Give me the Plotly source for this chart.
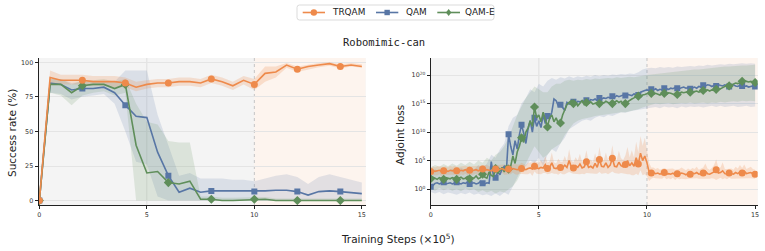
import plotly.graph_objects as go

# ---------------- data: left panel (success rate, %) ----------------
steps_sr = [i * 0.5 for i in range(31)]  # training steps (x1e5)

trqam_sr = [0, 89, 87, 87, 87, 86, 86, 86, 85, 82, 84, 85, 85, 86, 86, 85,
            88, 86, 83, 87, 84, 92, 93, 98, 95, 97, 98, 99, 97, 98, 97]
trqam_sr_lo = [0, 85, 84, 84, 84, 83, 83, 82, 82, 79, 81, 82, 82, 83, 83, 82,
               85, 83, 80, 84, 80, 86, 89, 96, 93, 95, 96.5, 97.5, 95.5, 97, 96]
trqam_sr_hi = [0, 94, 91, 91, 91, 90, 90, 90, 89, 86, 87, 88, 88, 89, 89, 88,
               91, 89, 86, 90, 88, 97, 97, 99.5, 97, 98.5, 99.5, 100, 98.5, 99.5, 98.5]

qam_sr = [0, 85, 84, 80, 81, 81, 82, 78, 69, 61, 60, 35, 18, 6, 9, 6,
          7, 7, 7, 6.5, 6.5, 7, 7.5, 7.5, 6.5, 4, 6.5, 7, 6.5, 6, 5]
qam_sr_lo = [0, 78, 77, 73, 75, 76, 77, 70, 50, 28, 26, 3, 0, 0, 0, 0,
             0, 0, 0, 0, 0, 0, 0, 0, 0, 0, 0, 0, 0, 0, 0]
qam_sr_hi = [0, 88, 88, 85, 86, 86, 86, 86, 94, 94, 94, 62, 40, 18, 20, 16,
             16, 16, 15, 15, 14, 16, 18, 19, 17, 12, 17, 19, 17, 15, 13]

qame_sr = [0, 84, 84, 78, 83, 84, 84, 81, 84, 40, 20, 21, 13, 12, 14, 1,
           1, 0, 0, 0.5, 1, 1, 0, 0, 0, 0, 0, 0, 0, 0, 0]
qame_sr_lo = [0, 78, 76, 69, 76, 78, 79, 76, 78, 0, 0, 0, 0, 0, 0, 0,
              0, 0, 0, 0, 0, 0, 0, 0, 0, 0, 0, 0, 0, 0, 0]
qame_sr_hi = [0, 88, 88, 84, 87, 87, 88, 86, 88, 70, 57, 55, 43, 42, 42, 3,
              3, 2, 2, 2, 2.5, 2.5, 1.5, 1.5, 1.5, 1.5, 1.5, 1.5, 1.5, 1.5, 1.5]

# ---------------- data: right panel (adjoint loss, log10 values) ----------------
steps_loss = [i / 10 for i in range(151)]

trqam_loss_log = [
    3.1, 3.2, 3.1, 3.2, 3.3, 3.1, 3.2, 3.2, 3.1, 3.3,
    3.2, 3.3, 3.2, 3.1, 3.3, 3.2, 3.4, 3.2, 3.3, 3.2,
    3.3, 3.4, 3.2, 3.3, 3.5, 3.3, 3.4, 3.3, 3.2, 3.4,
    3.5, 3.3, 3.4, 3.6, 3.4, 3.3, 3.5, 3.4, 3.6, 3.5,
    3.4, 3.5, 3.6, 3.5, 3.4, 3.6, 3.7, 3.5, 4.0, 3.7,
    3.6, 3.8, 3.7, 4.3, 3.6, 3.8, 4.6, 3.7, 3.6, 3.9,
    3.8, 3.7, 4.2, 3.8, 5.0, 3.9, 3.7, 4.1, 3.8, 4.4,
    3.7, 3.9, 4.8, 3.8, 4.0, 3.7, 4.5, 3.8, 5.2, 4.0,
    3.9, 4.6, 3.8, 4.2, 5.4, 4.0, 3.9, 4.7, 4.1, 3.9,
    4.3, 5.0, 4.1, 4.6, 4.0, 5.5, 4.4, 6.3, 5.0, 5.8,
    4.6, 3.0, 2.8, 2.9, 2.7, 2.8, 2.6, 2.7, 2.9, 2.6,
    2.7, 2.6, 2.8, 2.5, 2.7, 2.6, 2.8, 2.7, 2.5, 2.7,
    2.6, 2.8, 2.7, 2.9, 2.6, 2.7, 2.8, 3.1, 2.7, 2.6,
    2.8, 3.0, 3.4, 2.8, 2.9, 3.2, 2.7, 2.6, 2.8, 2.7,
    2.6, 2.9, 2.7, 3.0, 2.8, 3.1, 2.7, 2.8, 2.9, 2.7,
    2.6]
trqam_loss_spread = [
    0.7, 0.8, 0.7, 0.8, 0.7, 0.8, 0.7, 0.8, 0.7, 0.8,
    0.7, 0.8, 0.7, 0.8, 0.7, 0.8, 0.7, 0.8, 0.7, 0.8,
    0.8, 0.7, 0.9, 0.8, 0.7, 0.9, 0.8, 0.7, 0.9, 0.8,
    0.8, 0.9, 0.8, 0.7, 0.9, 0.8, 0.9, 0.8, 0.7, 0.9,
    0.9, 0.8, 1.0, 0.9, 0.8, 1.0, 0.9, 1.2, 0.9, 1.0,
    1.0, 1.2, 0.9, 1.5, 1.0, 1.1, 1.8, 1.0, 0.9, 1.4,
    1.0, 1.1, 1.6, 1.0, 2.0, 1.1, 1.0, 1.5, 1.2, 1.8,
    1.0, 1.3, 2.0, 1.1, 1.2, 1.0, 1.8, 1.1, 2.2, 1.3,
    1.1, 1.8, 1.2, 1.4, 2.3, 1.2, 1.1, 2.0, 1.3, 1.2,
    1.6, 2.4, 1.5, 2.2, 1.6, 2.8, 2.0, 3.0, 2.6, 3.2,
    2.4, 1.6, 1.0, 0.9, 0.8, 0.9, 0.8, 0.9, 0.8, 0.9,
    0.8, 0.9, 0.8, 0.9, 0.8, 0.9, 1.0, 0.9, 0.8, 0.9,
    0.8, 0.9, 0.8, 1.0, 0.8, 0.9, 1.0, 1.4, 0.9, 0.8,
    0.9, 1.2, 1.8, 1.0, 0.9, 1.5, 0.8, 0.9, 0.8, 0.9,
    0.8, 1.0, 0.9, 1.2, 0.9, 1.2, 0.8, 0.9, 1.0, 0.8,
    0.8]

qam_loss_log = [
    0.4, 0.6, 1.0, 1.1, 0.9, 1.0, 1.2, 0.9, 1.0, 1.1,
    0.9, 1.0, 1.2, 1.0, 0.9, 1.1, 1.0, 1.2, 0.9, 1.0,
    1.1, 0.9, 1.0, 1.3, 1.0, 0.9, 1.1, 1.0, 4.8, 2.4,
    2.0, 3.0, 2.5, 3.5, 4.0, 3.2, 9.6, 7.5, 6.0, 8.5,
    7.0, 9.5, 11.3, 9.8, 8.0, 10.5, 12.0, 10.0, 12.5, 11.0,
    12.0, 10.8, 13.0, 11.5, 12.8, 12.3, 13.5, 15.8, 15.5, 14.6,
    14.8, 14.3, 13.8, 15.2, 14.9, 15.1, 15.3, 15.0, 15.4, 15.3,
    15.5, 15.4, 15.6, 15.3, 15.7, 15.6, 15.8, 15.5, 16.0, 15.8,
    16.0, 15.9, 16.1, 16.0, 16.3, 16.1, 16.4, 16.2, 16.3, 16.5,
    16.4, 16.6, 16.5, 16.4, 16.7, 16.6, 16.5, 17.0, 17.2, 17.3,
    17.4, 17.3, 17.5, 17.4, 17.6, 17.3, 17.5, 17.4, 17.7, 17.6,
    17.5, 17.7, 17.6, 17.8, 17.7, 17.6, 17.8, 17.9, 17.7, 17.8,
    17.6, 17.8, 17.9, 17.7, 18.0, 17.9, 18.2, 18.1, 18.3, 18.2,
    18.0, 18.2, 18.1, 18.3, 18.2, 18.1, 18.3, 18.2, 18.0, 18.2,
    18.3, 18.1, 18.0, 18.2, 18.1, 18.0, 18.1, 17.9, 18.0, 18.1,
    18.0]

qame_loss_log = [
    1.8, 2.1, 1.9, 1.7, 2.0, 1.8, 1.7, 2.0, 1.9, 1.8,
    2.0, 1.8, 1.7, 1.9, 2.1, 1.8, 1.9, 2.2, 1.8, 2.0,
    1.9, 2.3, 1.8, 2.0, 2.6, 2.1, 1.9, 3.0, 2.4, 2.2,
    3.6, 2.8, 3.2, 3.8, 3.0, 4.2, 3.5, 4.0, 5.8, 4.5,
    6.5, 7.5, 9.0, 8.2, 10.0, 10.7, 12.0, 11.0, 14.4, 12.5,
    13.0, 11.8, 13.5, 12.2, 10.9, 12.5, 13.0, 11.8, 12.5, 11.5,
    11.6, 13.0, 14.0, 14.8, 15.2, 15.5, 15.0, 15.3, 14.6, 15.1,
    15.5, 14.8, 15.2, 15.0, 15.3, 14.9, 15.1, 15.2, 15.0, 15.3,
    15.1, 15.4, 15.2, 15.0, 15.0, 15.3, 15.5, 15.2, 15.4, 15.0,
    15.0, 15.3, 15.6, 15.8, 16.0, 16.1, 16.3, 16.2, 16.5, 16.6,
    16.7, 16.9, 16.8, 16.6, 16.8, 16.7, 16.5, 16.7, 16.8, 16.6,
    16.9, 16.8, 16.7, 16.5, 16.6, 16.8, 17.0, 16.9, 17.0, 17.1,
    17.0, 16.9, 17.1, 17.2, 17.0, 17.1, 17.3, 17.2, 17.4, 17.2,
    17.4, 17.3, 17.5, 17.4, 17.6, 17.8, 18.0, 18.2, 18.1, 18.3,
    18.4, 18.6, 18.5, 18.7, 18.9, 19.0, 18.9, 18.8, 18.9, 18.8,
    18.7]

# bands for QAM / QAM-E on a coarser grid (log10)
steps_band = [i / 5 for i in range(76)]
qam_band_lo = [
    -0.5, -0.8, -0.5, -0.9, -0.6, -0.8, -1.0, -0.7, -0.9, -0.6,
    -1.0, -0.8, -1.1, -0.9, -1.2, -0.8, -1.2, -0.6, -1.0, 0.5,
    2.0, 3.5, 4.0, 5.0, 4.5, 5.5, 4.0, 6.0, 7.0, 6.5,
    8.0, 9.0, 10.5, 11.0, 11.5, 12.0, 12.2, 12.0, 12.5, 12.8,
    12.6, 13.0, 12.8, 13.2, 13.5, 13.4, 13.6, 13.8, 14.0, 14.0,
    14.2, 14.3, 14.4, 14.2, 14.5, 14.3, 14.4, 14.2, 14.5, 14.3,
    14.5, 14.4, 14.5, 14.3, 14.5, 14.6, 14.4, 14.6, 14.4, 14.5,
    14.6, 14.4, 14.5, 14.6, 14.4, 14.5]
qam_band_hi = [
    3.0, 3.5, 3.0, 3.8, 3.2, 3.6, 3.0, 3.8, 3.3, 4.0,
    3.4, 4.2, 3.6, 4.5, 6.0, 5.5, 7.0, 8.0, 11.0, 12.5,
    13.0, 15.0, 16.0, 17.5, 17.0, 18.5, 18.0, 19.0, 19.5, 19.2,
    19.6, 19.4, 19.8, 19.5, 19.8, 19.6, 19.9, 19.7, 20.0, 19.8,
    20.0, 19.9, 20.1, 20.0, 20.2, 20.1, 20.3, 20.2, 20.5, 21.0,
    21.2, 21.3, 21.2, 21.4, 21.3, 21.4, 21.3, 21.5, 21.4, 21.5,
    21.6, 21.5, 21.7, 21.6, 21.8, 21.7, 21.8, 21.9, 21.8, 22.0,
    21.9, 22.0, 22.1, 22.0, 22.1, 22.0]
qame_band_lo = [
    0.0, -0.3, 0.2, -0.2, 0.1, -0.3, 0.0, -0.4, 0.1, -0.2,
    0.0, -0.5, -0.2, -0.6, -0.3, -0.8, -0.4, -0.6, 0.0, 0.5,
    1.5, 3.0, 4.5, 6.0, 7.5, 6.5, 5.5, 6.0, 7.0, 7.5,
    8.0, 9.5, 10.5, 11.5, 12.0, 12.3, 12.5, 12.6, 12.8, 13.0,
    13.0, 13.2, 13.3, 13.4, 13.5, 13.5, 13.7, 13.8, 14.0, 14.3,
    14.5, 14.8, 15.0, 14.9, 15.0, 15.1, 14.9, 15.0, 15.1, 15.0,
    15.2, 15.0, 15.1, 15.2, 15.0, 15.2, 15.1, 15.3, 15.2, 15.3,
    15.4, 15.3, 15.5, 15.4, 15.5, 15.4]
qame_band_hi = [
    3.8, 4.2, 3.9, 4.4, 4.0, 4.5, 4.1, 4.6, 4.2, 4.8,
    4.3, 5.0, 4.6, 5.5, 5.0, 6.0, 6.5, 7.5, 9.0, 11.0,
    13.0, 14.5, 16.0, 17.0, 18.0, 17.5, 17.0, 17.0, 18.0, 18.5,
    18.5, 19.0, 19.2, 19.0, 19.2, 19.1, 19.3, 19.2, 19.4, 19.3,
    19.4, 19.5, 19.4, 19.6, 19.5, 19.6, 19.7, 19.6, 19.8, 19.9,
    20.0, 20.1, 20.2, 20.3, 20.4, 20.5, 20.5, 20.6, 20.7, 20.8,
    20.9, 21.0, 21.0, 21.1, 21.2, 21.3, 21.3, 21.4, 21.5, 21.5,
    21.6, 21.6, 21.7, 21.7, 21.8, 21.8]

series_names = ["TRQAM", "QAM", "QAM-E"]
loss_ticks = [0, 5, 10, 15, 20]

# ---------------- styles ----------------
W, H = 765, 251
C_OR = "#EE8A4B"
C_BL = "#5876A5"
C_GR = "#5F8E5A"
F_OR = "rgba(238,138,75,0.22)"
F_BL = "rgba(88,118,165,0.16)"
F_GR = "rgba(95,142,90,0.16)"
SYM = {"TRQAM": "circle", "QAM": "square", "QAM-E": "diamond"}
MS = {"TRQAM": 7, "QAM": 6, "QAM-E": 7}
COL = {"TRQAM": C_OR, "QAM": C_BL, "QAM-E": C_GR}

fig = go.Figure()


def band(x, lo, hi, fill, xa, ya):
    fig.add_trace(go.Scatter(x=list(x) + list(x)[::-1], y=list(hi) + list(lo)[::-1],
                             fill="toself", fillcolor=fill, line=dict(width=0),
                             mode="lines", showlegend=False, hoverinfo="skip",
                             xaxis=xa, yaxis=ya))


def line(x, y, name, xa, ya, every):
    fig.add_trace(go.Scatter(x=x, y=y, mode="lines", line=dict(color=COL[name], width=1.6),
                             showlegend=False, xaxis=xa, yaxis=ya))
    fig.add_trace(go.Scatter(x=x[::every], y=y[::every], mode="markers",
                             marker=dict(color=COL[name], symbol=SYM[name], size=MS[name]),
                             showlegend=False, xaxis=xa, yaxis=ya))


def p10(arr):
    return [10.0 ** v for v in arr]


# left panel
band(steps_sr, qam_sr_lo, qam_sr_hi, F_BL, "x", "y")
band(steps_sr, qame_sr_lo, qame_sr_hi, F_GR, "x", "y")
band(steps_sr, trqam_sr_lo, trqam_sr_hi, F_OR, "x", "y")
line(steps_sr, qam_sr, "QAM", "x", "y", 4)
line(steps_sr, qame_sr, "QAM-E", "x", "y", 4)
line(steps_sr, trqam_sr, "TRQAM", "x", "y", 4)

# right panel
band(steps_band, p10(qam_band_lo), p10(qam_band_hi), F_BL, "x2", "y2")
band(steps_band, p10(qame_band_lo), p10(qame_band_hi), F_GR, "x2", "y2")
band(steps_loss, p10([m - s for m, s in zip(trqam_loss_log, trqam_loss_spread)]),
     p10([m + s for m, s in zip(trqam_loss_log, trqam_loss_spread)]), F_OR, "x2", "y2")
line(steps_loss, p10(qam_loss_log), "QAM", "x2", "y2", 6)
line(steps_loss, p10(qame_loss_log), "QAM-E", "x2", "y2", 6)
line(steps_loss, p10(trqam_loss_log), "TRQAM", "x2", "y2", 6)

TICKF = dict(family="DejaVu Sans", size=6.4, color="#333333")
common_ax = dict(showline=True, linecolor="#222222", linewidth=1, ticks="outside",
                 ticklen=3, tickwidth=0.8, tickcolor="#222222", tickfont=TICKF,
                 zeroline=False, automargin=False)
YD = [46 / H, 193 / H]

fig.update_layout(
    width=W, height=H, margin=dict(l=0, r=0, t=0, b=0),
    paper_bgcolor="white", plot_bgcolor="#F4F4F4", showlegend=False,
    xaxis=dict(domain=[38.5 / W, 365.7 / W], range=[-0.04, 15.18], tickvals=[0, 5, 10, 15],
               showgrid=False, anchor="y", **common_ax),
    yaxis=dict(domain=YD, range=[-3.2, 103.1], tickvals=[0, 25, 50, 75, 100],
               showgrid=True, gridcolor="#E4E4E4", gridwidth=1, anchor="x", **common_ax),
    xaxis2=dict(domain=[430.7 / W, 757.7 / W], range=[0, 15.12], tickvals=[0, 5, 10, 15],
                showgrid=False, anchor="y2", **common_ax),
    yaxis2=dict(domain=YD, type="log", range=[-2.8, 23.0],
                tickvals=[10.0 ** t for t in loss_ticks],
                ticktext=["10<sup>%d</sup>" % t for t in loss_ticks],
                showgrid=True, gridcolor="#E4E4E4", gridwidth=1, anchor="x2", **common_ax),
)


def px(xp):
    return xp / W


def py(yp):
    return 1 - yp / H


shapes = []
for xa, ya, xmax in (("x", "y", 15.18), ("x2", "y2", 15.12)):
    shapes.append(dict(type="rect", xref=xa, yref=ya + " domain", x0=10, x1=xmax, y0=0, y1=1,
                       fillcolor="#FDF4EE", line=dict(width=0), layer="below"))
    shapes.append(dict(type="line", xref=xa, yref=ya + " domain", x0=5, x1=5, y0=0, y1=1,
                       line=dict(color="#DEDEDE", width=1), layer="below"))
    shapes.append(dict(type="line", xref=xa, yref=ya + " domain", x0=10, x1=10, y0=0, y1=1,
                       line=dict(color="#C4C4C4", width=1, dash="dot"), layer="below"))

# ---- manual legend (paper coords from pixel layout) ----
bx0, bx1, by0, by1, r = 297, 494, 5, 20, 2.5
path = ("M {a},{b} L {c},{b} Q {d},{b} {d},{e} L {d},{f} Q {d},{g} {c},{g} "
        "L {a},{g} Q {h},{g} {h},{f} L {h},{e} Q {h},{b} {a},{b} Z").format(
    a=px(bx0 + r), b=py(by0), c=px(bx1 - r), d=px(bx1), e=py(by0 + r),
    f=py(by1 - r), g=py(by1), h=px(bx0))
shapes.append(dict(type="path", xref="paper", yref="paper", path=path,
                   fillcolor="white", line=dict(color="#D2D2D2", width=0.8), layer="above"))
leg_y = 12.5
leg_items = [("TRQAM", 302.7, 325, 329.5), ("QAM", 376, 398.3, 404), ("QAM-E", 437.3, 460, 463.3)]
for name, lx0, lx1, tx in leg_items:
    c = COL[name]
    shapes.append(dict(type="line", xref="paper", yref="paper", x0=px(lx0), x1=px(lx1),
                       y0=py(leg_y), y1=py(leg_y), line=dict(color=c, width=1.6), layer="above"))
    cx = (lx0 + lx1) / 2
    if name == "TRQAM":
        rr = 3.2
        shapes.append(dict(type="circle", xref="paper", yref="paper", x0=px(cx - rr), x1=px(cx + rr),
                           y0=py(leg_y + rr), y1=py(leg_y - rr), fillcolor=c,
                           line=dict(color=c, width=0), layer="above"))
    elif name == "QAM":
        rr = 2.7
        shapes.append(dict(type="rect", xref="paper", yref="paper", x0=px(cx - rr), x1=px(cx + rr),
                           y0=py(leg_y + rr), y1=py(leg_y - rr), fillcolor=c,
                           line=dict(color=c, width=0), layer="above"))
    else:
        rr = 3.4
        dpath = "M {},{} L {},{} L {},{} L {},{} Z".format(
            px(cx), py(leg_y - rr), px(cx + rr * 0.8), py(leg_y), px(cx), py(leg_y + rr),
            px(cx - rr * 0.8), py(leg_y))
        shapes.append(dict(type="path", xref="paper", yref="paper", path=dpath, fillcolor=c,
                           line=dict(color=c, width=0), layer="above"))
    fig.add_annotation(text=name, x=px(tx), y=py(leg_y), xref="paper", yref="paper",
                       xanchor="left", yanchor="middle", showarrow=False,
                       font=dict(family="DejaVu Sans", size=8.9, color="#222222"))

fig.update_layout(shapes=shapes)

TITLEF = dict(family="DejaVu Sans", size=10.5, color="#222222")
fig.add_annotation(text="Robomimic-can", x=px(384), y=py(42), xref="paper", yref="paper",
                   xanchor="center", yanchor="middle", showarrow=False,
                   font=dict(family="DejaVu Sans Mono", size=10.5, color="#222222"))
fig.add_annotation(text="Training Steps (×10<sup>5</sup>)", x=px(398), y=py(238),
                   xref="paper", yref="paper", xanchor="center", yanchor="middle",
                   showarrow=False, font=TITLEF)
fig.add_annotation(text="Success rate (%)", x=px(12), y=py(133), xref="paper",
                   yref="paper", xanchor="center", yanchor="middle", showarrow=False,
                   textangle=-90, font=TITLEF)
fig.add_annotation(text="Adjoint loss", x=px(400), y=py(135), xref="paper",
                   yref="paper", xanchor="center", yanchor="middle", showarrow=False,
                   textangle=-90, font=TITLEF)

fig.write_html("out.html")
